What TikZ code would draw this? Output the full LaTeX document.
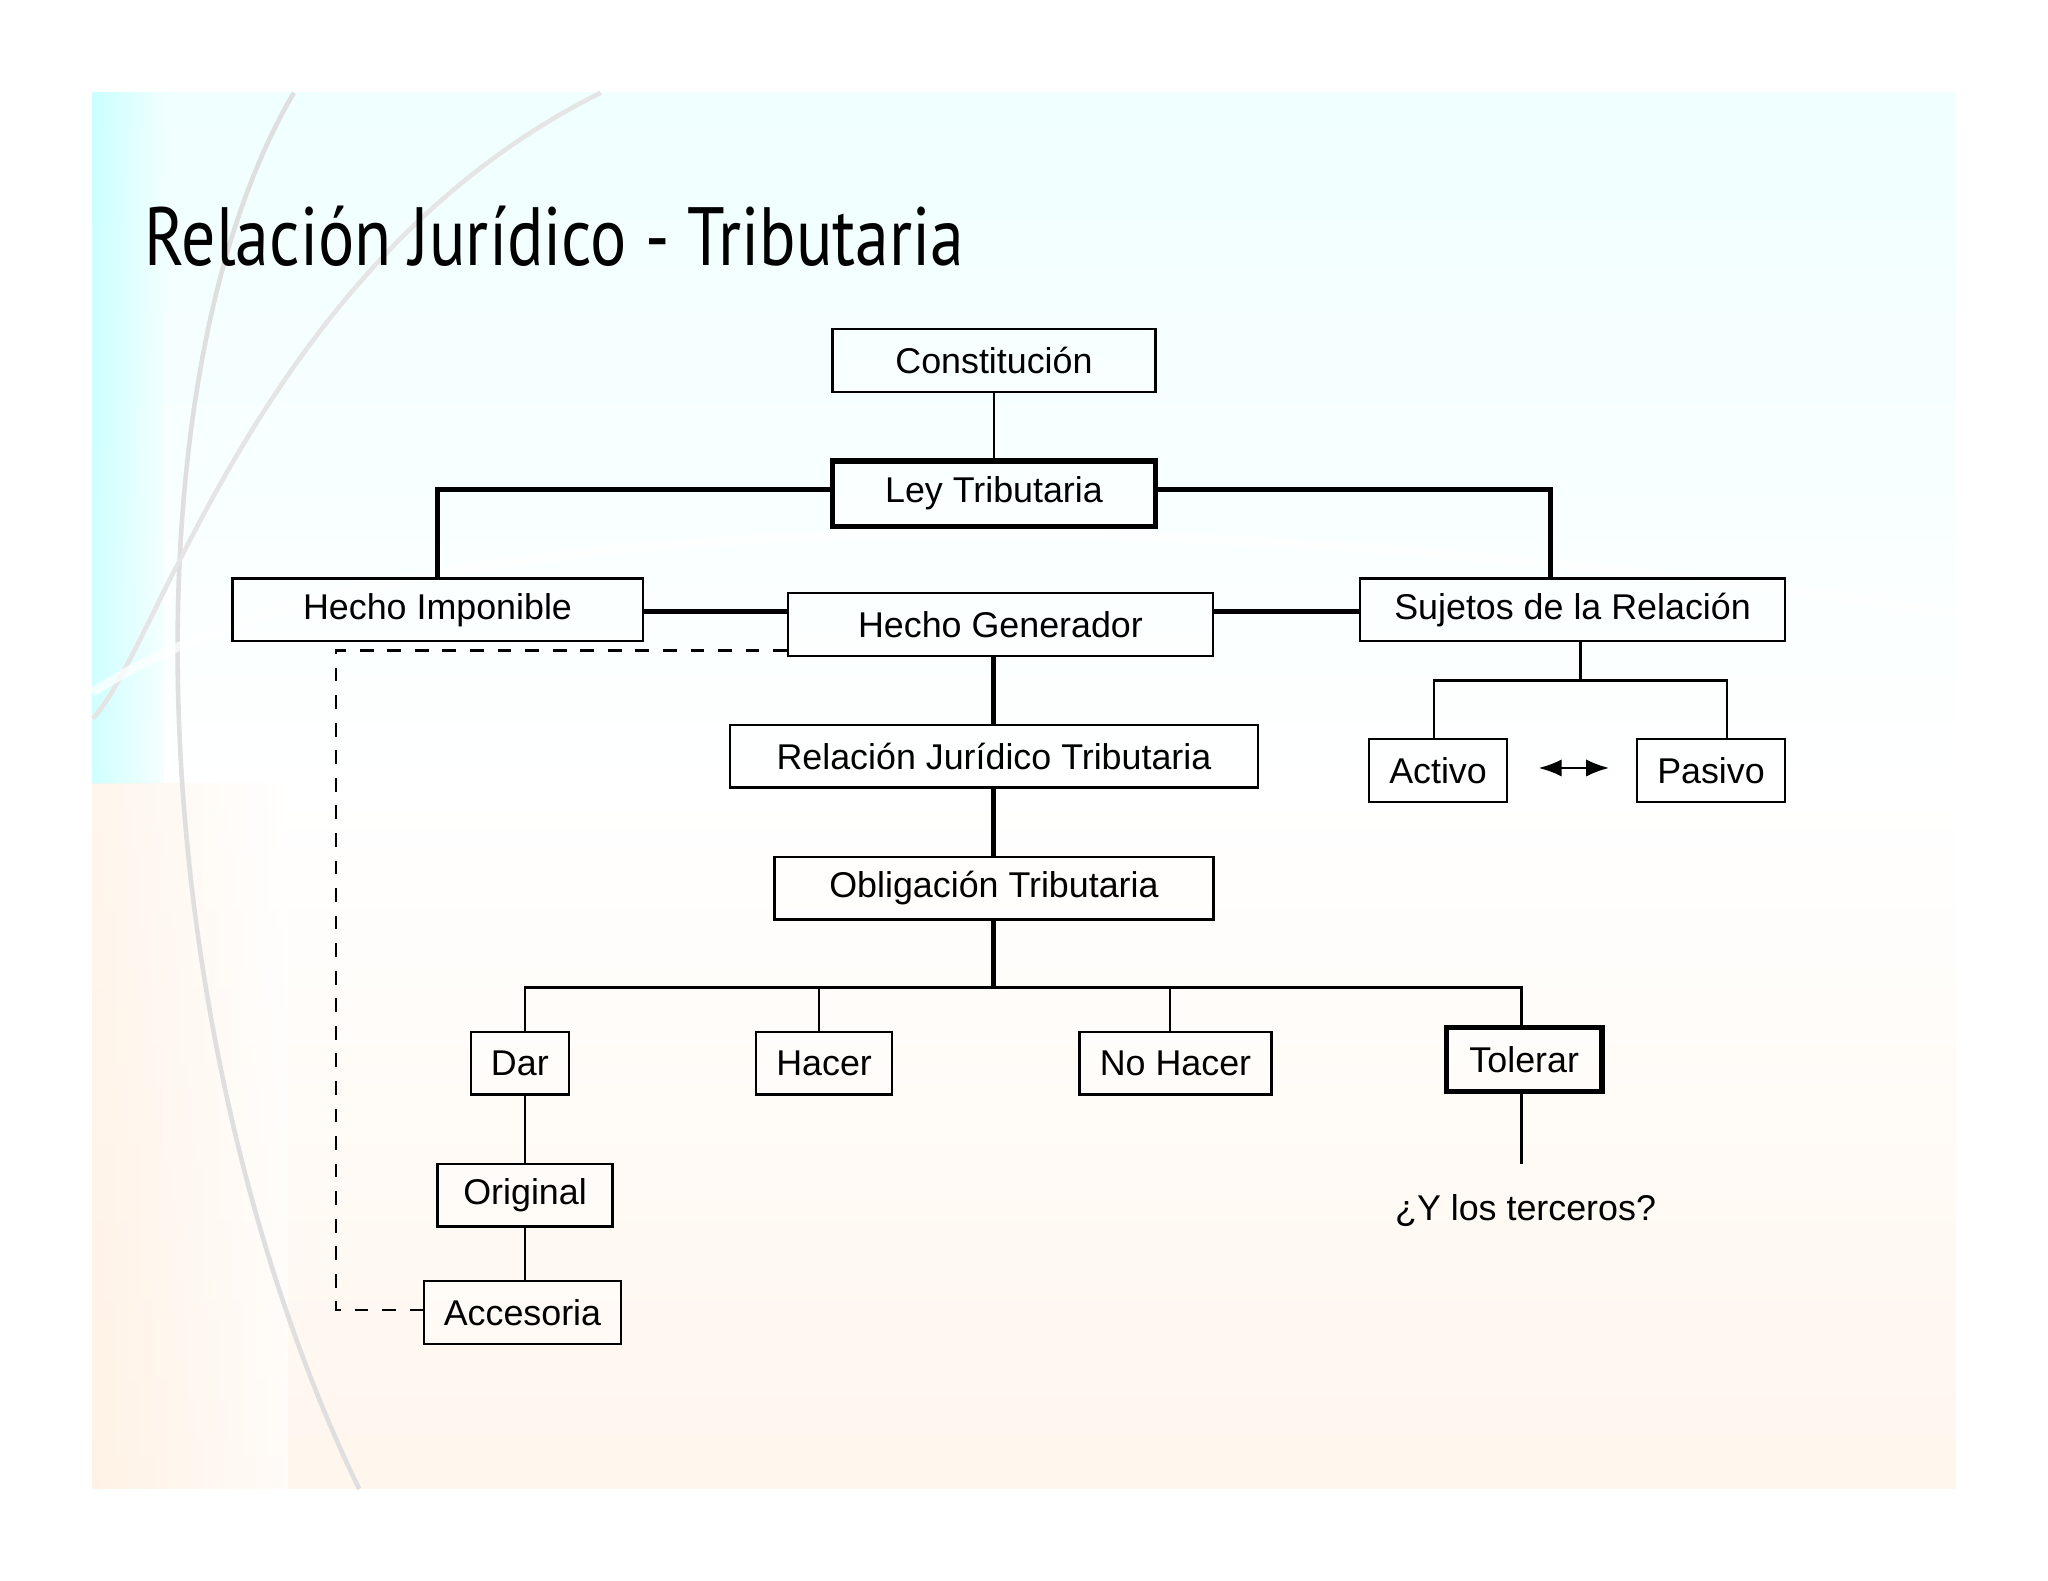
\documentclass[tikz,border=0pt]{standalone}
\usepackage{fontspec}
\setmainfont{Liberation Sans}
\newfontfamily\titlefont{PT Sans}
\usetikzlibrary{arrows.meta}
\tikzset{
 bx/.style={draw, line width=0.5pt, fill=white, fill opacity=0.35, text opacity=1, inner sep=0pt, font=\fontsize{7.8}{9}\selectfont},
 thk/.style={line width=1.1pt},
 thn/.style={line width=0.5pt},
}
\begin{document}
\begin{tikzpicture}[x=0.01cm,y=-0.01cm]
\useasboundingbox (0,0) rectangle (1568,1210);
\fill[white] (0,0) rectangle (1568,1210);
% slide background
\shade[top color=cyan!6!white, bottom color=orange!7!white, middle color=white] (71,71) rectangle (1497,1140);
\shade[left color=cyan!30!white, right color=cyan!6!white, opacity=0.6] (71,71) rectangle (125,600);
\shade[left color=orange!12!white, right color=white, opacity=0.6] (71,600) rectangle (220,1140);
\draw[gray!25, line width=1pt] (225,71) .. controls (90,300) and (110,800) .. (275,1140);
\draw[gray!20, line width=1pt] (460,71) .. controls (200,200) and (120,500) .. (71,550);
\draw[white, line width=2pt, opacity=0.7] (71,530) .. controls (300,380) and (900,380) .. (1497,470);
% title
\node[anchor=west, inner sep=0pt] (title) at (110,181) {\resizebox{6.27cm}{!}{\titlefont\addfontfeatures{FakeStretch=0.82}Relación Jurídico - Tributaria}};
% nodes
\node[bx, minimum width=2.47cm, minimum height=0.48cm] (con) at (761,276) {Constitución};
\node[bx, thk, minimum width=2.47cm, minimum height=0.50cm] (ley) at (761,378) {Ley Tributaria};
\node[bx, minimum width=3.14cm, minimum height=0.48cm] (hi) at (335,467) {Hecho Imponible};
\node[bx, minimum width=3.25cm, minimum height=0.48cm] (hg) at (766,478) {Hecho Generador};
\node[bx, minimum width=3.25cm, minimum height=0.48cm] (suj) at (1204,467) {Sujetos de la Relación};
\node[bx, minimum width=4.04cm, minimum height=0.48cm] (rjt) at (761,579) {Relación Jurídico Tributaria};
\node[bx, minimum width=3.36cm, minimum height=0.48cm] (obl) at (761,680) {Obligación Tributaria};
\node[bx, minimum width=1.06cm, minimum height=0.48cm] (act) at (1101,590) {Activo};
\node[bx, minimum width=1.13cm, minimum height=0.48cm] (pas) at (1310,590) {Pasivo};
\node[bx, minimum width=0.75cm, minimum height=0.48cm] (dar) at (398,814) {Dar};
\node[bx, minimum width=1.04cm, minimum height=0.48cm] (hac) at (631,814) {Hacer};
\node[bx, minimum width=1.47cm, minimum height=0.48cm] (noh) at (900,814) {No Hacer};
\node[bx, thk, minimum width=1.19cm, minimum height=0.49cm] (tol) at (1167,811) {Tolerar};
\node[bx, minimum width=1.34cm, minimum height=0.48cm] (ori) at (402,915) {Original};
\node[bx, minimum width=1.51cm, minimum height=0.48cm] (acc) at (400,1005) {Accesoria};
\node[inner sep=0pt, font=\fontsize{7.8}{9}\selectfont] (ter) at (1168,927) {¿Y los terceros?};
% connectors
\draw[thn] (con.south) -- (ley.north);
\draw[thk] (ley.west |- 0,375) -| (hi.north);
\draw[thk] (ley.east |- 0,375) -| (suj.north -| 1187,0);
\draw[thk] (hi.east |- 0,468) -- (hg.west |- 0,468);
\draw[thk] (hg.east |- 0,468) -- (suj.west |- 0,468);
\draw[thk] (hg.south -| 761,0) -- (rjt.north);
\draw[thk] (rjt.south) -- (obl.north);
\coordinate (sj) at (1210,521);
\draw[thn] (suj.south -| sj) -- (sj);
\draw[thn] (act.north -| 1098,0) |- (sj) -| (pas.north -| 1322,0);
\draw[thn, {Latex[length=5pt]}-{Latex[length=5pt]}] (1178,588) -- (1232,588);
\coordinate (ob) at (761,756);
\draw[thk] (obl.south) -- (ob);
\draw[thn] (dar.north -| 402,0) |- (ob) -| (tol.north -| 1165,0);
\draw[thn] (hac.north -| 627,0) -- (627,756);
\draw[thn] (noh.north -| 896,0) -- (896,756);
\draw[thn] (dar.south -| 402,0) -- (ori.north);
\draw[thn] (ori.south) -- (acc.north -| 402,0);
\coordinate (tt) at (1165,891);
\draw[thn] (tol.south -| tt) -- (tt);
\draw[thn, dashed] (hg.west |- 0,498) -- (257,498) -- (257,1003) -- (acc.west |- 0,1003);
\end{tikzpicture}
\end{document}
